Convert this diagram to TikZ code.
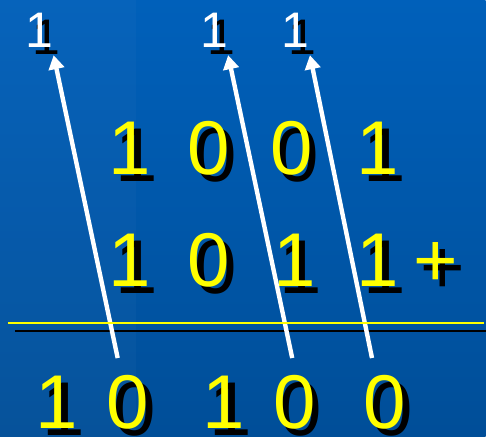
\documentclass[tikz,border=0pt]{standalone}
\usepackage{fontspec}
\setmainfont{Liberation Sans}
\usepackage{xcolor}
\usetikzlibrary{arrows.meta}
\definecolor{SlideBlue}{RGB}{0,96,186}
\definecolor{SlideBlueDark}{RGB}{0,78,152}
\definecolor{DigitYellow}{RGB}{255,255,0}

\begin{document}
\begin{tikzpicture}[x=0.02cm, y=-0.02cm,
    digit/.style={anchor=base, inner sep=0pt, font=\fontsize{43.5}{50}\selectfont, text=DigitYellow},
    carry/.style={anchor=base, inner sep=0pt, font=\fontsize{28.5}{34}\selectfont, text=white},
    carry arrow/.style={-{Triangle[length=2.8mm, width=3.1mm]}, white, line width=2.5pt}]
      % background
      \shade[top color=SlideBlue, bottom color=SlideBlueDark] (0,0) rectangle (487,438);
      \fill[white, opacity=0.025] (0,0) rectangle (136,438);
      % operands, sum and carries (shadow first)
      \foreach \n/\x/\y/\t in {a1/130/175/1, a2/209/175/0, a3/292/175/0, a4/379/175/1,
                               b1/130/287/1, b2/209/287/0, b3/295/287/1, b4/379/287/1, plus/437/287/+,
                               r1/57/430/1, r2/128/430/0, r3/224/430/1, r4/295/430/0, r5/386/430/0} {
        \node[digit, text=black] at (\x+7,\y+7) {\t};
        \node[digit] (\n) at (\x,\y) {\t};
      }
      \foreach \n/\x in {c1/39.5, c2/214.5, c3/296.5} {
        \node[carry, text=black] at (\x+7,55) {1};
        \node[carry] (\n) at (\x,48) {1};
      }
      % rule
      \draw[black, line width=1.5pt] (15,332) -- (487,332);
      % carry arrows
      \coordinate (s1) at (118,359);
      \coordinate (s2) at (293,359);
      \coordinate (s3) at (373,359);
      \draw[carry arrow] (s1) -- ([shift={(0,7)}]c1.south east);
      \draw[carry arrow] (s2) -- ([shift={(0,7)}]c2.south east);
      \draw[carry arrow] (s3) -- ([shift={(0,7)}]c3.south east);
      \draw[DigitYellow, line width=1.5pt] (8,324) -- (485,324);
    \end{tikzpicture}
\end{document}
